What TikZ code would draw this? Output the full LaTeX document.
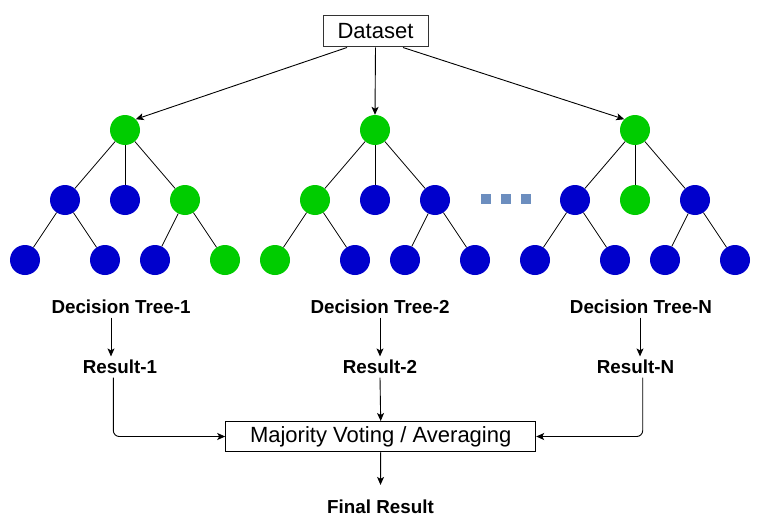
\documentclass[tikz,border=0pt]{standalone}
\usepackage{fontspec}
\setmainfont{Liberation Sans}
\usetikzlibrary{arrows.meta}
\definecolor{leafgreen}{HTML}{00CC00}
\definecolor{nodeblue}{HTML}{0000CC}
\definecolor{dotblue}{HTML}{6C8EBF}
\begin{document}
\begin{tikzpicture}[x=1pt,y=-1pt,
  gnode/.style={circle,fill=leafgreen,minimum size=30pt,inner sep=0pt},
  bnode/.style={circle,fill=nodeblue,minimum size=30pt,inner sep=0pt},
  branch/.style={line width=0.8pt},
  arr/.style={line width=0.9pt,-{Stealth[length=8pt,width=7pt,inset=2pt]}},
  lbl/.style={font=\fontsize{18.8}{22}\selectfont\bfseries,inner sep=3.5pt},
  box/.style={draw,line width=1pt,font=\fontsize{22}{26}\selectfont,inner sep=0pt},
  dot/.style={fill=dotblue,minimum size=10pt,inner sep=0pt}
]
\useasboundingbox (0,0) rectangle (776,527);
\fill[white] (0,0) rectangle (776,527);

% source data
\node[box,draw=black!80,minimum width=105pt,minimum height=31pt] (data) at (375.5,31.5) {Dataset};

% tree 1
\node[gnode] (t1r) at (125,130) {};
\node[bnode] (t1a) at (65,200) {};
\node[bnode] (t1b) at (125,200) {};
\node[gnode] (t1c) at (185,200) {};
\node[bnode] (t1aa) at (25,260) {};
\node[bnode] (t1ab) at (105,260) {};
\node[bnode] (t1ca) at (155,260) {};
\node[gnode] (t1cb) at (225,260) {};

% tree 2
\node[gnode] (t2r) at (375,130) {};
\node[gnode] (t2a) at (315,200) {};
\node[bnode] (t2b) at (375,200) {};
\node[bnode] (t2c) at (435,200) {};
\node[gnode] (t2aa) at (275,260) {};
\node[bnode] (t2ab) at (355,260) {};
\node[bnode] (t2ca) at (405,260) {};
\node[bnode] (t2cb) at (475,260) {};

% tree N
\node[gnode] (t3r) at (635,130) {};
\node[bnode] (t3a) at (575,200) {};
\node[gnode] (t3b) at (635,200) {};
\node[bnode] (t3c) at (695,200) {};
\node[bnode] (t3aa) at (535,260) {};
\node[bnode] (t3ab) at (615,260) {};
\node[bnode] (t3ca) at (665,260) {};
\node[bnode] (t3cb) at (735,260) {};

% branches
\foreach \t in {t1,t2,t3}{
  \draw[branch] (\t r) -- (\t a);
  \draw[branch] (\t r) -- (\t b);
  \draw[branch] (\t r) -- (\t c);
  \draw[branch] (\t a) -- (\t aa);
  \draw[branch] (\t a) -- (\t ab);
  \draw[branch] (\t c) -- (\t ca);
  \draw[branch] (\t c) -- (\t cb);
}

% ellipsis between trees
\node[dot] (d1) at (485.5,198.5) {};
\node[dot] (d2) at (505.5,198.5) {};
\node[dot] (d3) at (525.5,198.5) {};

% bootstrap samples
\draw[arr] ([xshift=-28.5pt]data.south) -- (t1r.north east);
\draw[arr] (data.south) -- (t2r.north);
\draw[arr] ([xshift=27.5pt]data.south) -- (t3r.north west);

% labels and results
\node[lbl] (dt1) at (121,307) {Decision Tree-1};
\node[lbl] (dt2) at (380,307) {Decision Tree-2};
\node[lbl] (dt3) at (641,307) {Decision Tree-N};
\node[lbl] (r1) at (120,367) {Result-1};
\node[lbl] (r2) at (380,367) {Result-2};
\node[lbl] (r3) at (635.5,367) {Result-N};

\draw[arr] ([xshift=-10pt]dt1.south) -- ([xshift=-9pt]r1.north);
\draw[arr] (dt2.south) -- (r2.north);
\draw[arr] ([xshift=-1pt]dt3.south) -- ([xshift=4.5pt]r3.north);

% aggregation
\node[box,minimum width=310pt,minimum height=30pt] (maj) at (380.7,436.5) {Majority Voting / Averaging};
\node[lbl] (fin) at (380.5,506.5) {Final Result};

\draw[arr,rounded corners=6pt] ([xshift=-6.7pt]r1.south) |- (maj.west);
\draw[arr] (r2.south) -- (maj.north);
\draw[arr,rounded corners=6pt] ([xshift=7.2pt]r3.south) |- (maj.east);
\draw[arr] (maj.south) -- ([yshift=11pt]fin.north);
\end{tikzpicture}
\end{document}
